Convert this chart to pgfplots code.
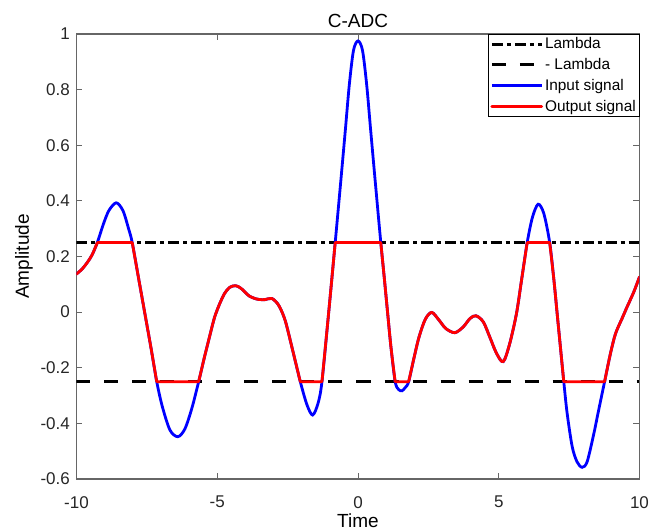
\documentclass[border=0pt]{standalone}
\usepackage{fontspec}
\setmainfont{Liberation Sans}
\usepackage{pgfplots}
\usepackage{pgfplotstable}
\pgfplotsset{compat=1.18}

% time and input signal
\pgfplotstableread{
x      in
-10.00  0.137
-9.80   0.155
-9.62   0.178
-9.45   0.205
-9.26   0.250
-9.05   0.315
-8.85   0.365
-8.59   0.393
-8.35   0.365
-8.15   0.300
-8.02   0.250
-7.80   0.125
-7.58   0.000
-7.36  -0.125
-7.15  -0.250
-6.95  -0.340
-6.68  -0.424
-6.40  -0.448
-6.15  -0.420
-5.90  -0.345
-5.66  -0.250
-5.45  -0.160
-5.23  -0.071
-5.09  -0.017
-4.91   0.031
-4.74   0.067
-4.56   0.089
-4.35   0.095
-4.15   0.085
-3.85   0.057
-3.55   0.046
-3.30   0.045
-3.06   0.049
-2.82   0.025
-2.59  -0.029
-2.35  -0.125
-2.05  -0.250
-1.81  -0.334
-1.61  -0.370
-1.42  -0.328
-1.28  -0.250
-1.04   0.000
-0.81   0.250
-0.63   0.450
-0.45   0.654
-0.31   0.816
-0.16   0.941
 0.00   0.975
 0.16   0.941
 0.31   0.816
 0.45   0.654
 0.63   0.450
 0.81   0.250
 0.93   0.127
 1.05   0.000
 1.17  -0.125
 1.32  -0.250
 1.44  -0.278
 1.56  -0.283
 1.68  -0.271
 1.80  -0.250
 2.00  -0.160
 2.17  -0.089
 2.39  -0.026
 2.62  -0.001
 2.88  -0.029
 3.12  -0.059
 3.44  -0.074
 3.74  -0.053
 3.98  -0.023
 4.19  -0.013
 4.45  -0.035
 4.68  -0.089
 4.92  -0.148
 5.16  -0.178
 5.39  -0.113
 5.63  -0.005
 5.81   0.115
 6.01   0.250
 6.20   0.342
 6.40   0.388
 6.60   0.355
 6.81   0.250
 6.96   0.115
 7.07   0.000
 7.19  -0.125
 7.31  -0.250
 7.43  -0.364
 7.61  -0.484
 7.78  -0.538
 7.96  -0.558
 8.14  -0.538
 8.38  -0.436
 8.55  -0.352
 8.76  -0.250
 8.97  -0.148
 9.15  -0.077
 9.38  -0.023
 9.56   0.019
 9.80   0.073
10.00   0.127
}\insig

% output signal, clipped to +-0.25; nan rows split the smooth pieces at the corners
\pgfplotstableread{
x      out
-10.00  0.137
-9.80   0.155
-9.62   0.178
-9.45   0.205
-9.26   0.250
nan     nan
-9.26   0.250
-8.02   0.250
nan     nan
-8.02   0.250
-7.80   0.125
-7.58   0.000
-7.36  -0.125
-7.15  -0.250
nan     nan
-7.15  -0.250
-5.66  -0.250
nan     nan
-5.66  -0.250
-5.45  -0.160
-5.23  -0.071
-5.09  -0.017
-4.91   0.031
-4.74   0.067
-4.56   0.089
-4.35   0.095
-4.15   0.085
-3.85   0.057
-3.55   0.046
-3.30   0.045
-3.06   0.049
-2.82   0.025
-2.59  -0.029
-2.35  -0.125
-2.05  -0.250
nan     nan
-2.05  -0.250
-1.28  -0.250
nan     nan
-1.28  -0.250
-1.04   0.000
-0.81   0.250
nan     nan
-0.81   0.250
 0.81   0.250
nan     nan
 0.81   0.250
 0.93   0.127
 1.05   0.000
 1.17  -0.125
 1.32  -0.250
nan     nan
 1.32  -0.250
 1.80  -0.250
nan     nan
 1.80  -0.250
 2.00  -0.160
 2.17  -0.089
 2.39  -0.026
 2.62  -0.001
 2.88  -0.029
 3.12  -0.059
 3.44  -0.074
 3.74  -0.053
 3.98  -0.023
 4.19  -0.013
 4.45  -0.035
 4.68  -0.089
 4.92  -0.148
 5.16  -0.178
 5.39  -0.113
 5.63  -0.005
 5.81   0.115
 6.01   0.250
nan     nan
 6.01   0.250
 6.81   0.250
nan     nan
 6.81   0.250
 6.96   0.115
 7.07   0.000
 7.19  -0.125
 7.31  -0.250
nan     nan
 7.31  -0.250
 8.76  -0.250
nan     nan
 8.76  -0.250
 8.97  -0.148
 9.15  -0.077
 9.38  -0.023
 9.56   0.019
 9.80   0.073
10.00   0.127
}\outsig

\definecolor{axgray}{gray}{0.4}

\begin{document}
\begin{tikzpicture}
\begin{axis}[
    at={(0,0)}, anchor=south west,
    scale only axis,
    width=563pt, height=445pt,
    xmin=-10, xmax=10, ymin=-0.6, ymax=1,
    xtick={-10,-5,0,5,10},
    ytick={-0.6,-0.4,-0.2,0,0.2,0.4,0.6,0.8,1},
    /pgf/number format/assume math mode=true,
    tick label style={font=\fontsize{17}{20}\selectfont, text=black!85},
    xticklabel style={anchor=north, inner sep=0pt, yshift=-17pt},
    yticklabel style={anchor=east, inner sep=0pt, xshift=-6.5pt},
    axis line style={axgray, line width=1.1pt},
    tick style={axgray, line width=0.9pt},
    major tick length=6pt,
    tick align=inside,
    unbounded coords=jump,
    title={C-ADC},
    every axis title shift=0pt,
    title style={at={(axis description cs:0.5,1)}, anchor=base, yshift=6.5pt,
                 font=\fontsize{19}{22}\selectfont},
    xlabel={Time},
    xlabel style={at={(axis description cs:0.5,0)}, anchor=base, yshift=-49pt,
                  font=\fontsize{19}{22}\selectfont},
    ylabel={Amplitude},
    ylabel style={at={([xshift=-47.5pt]axis description cs:0,0.5)}, anchor=base,
                  font=\fontsize{19}{22}\selectfont},
    legend style={at={(1,1)}, anchor=north east, draw=black, line width=0.8pt,
                  font=\fontsize{15.4}{17}\selectfont, inner sep=1.5pt,
                  row sep=4.6pt, nodes={inner sep=1.8pt}},
    legend cell align=left,
    legend image code/.code={\draw[#1] (0pt,0pt) -- (50pt,0pt);},
]
\addplot[black, line width=3pt, dash pattern=on 11pt off 4pt on 4pt off 4pt]
    coordinates {(-10,0.25) (10,0.25)};
\addplot[black, line width=3pt, dash pattern=on 14pt off 14pt]
    coordinates {(-10,-0.25) (10,-0.25)};
\addplot[blue, line width=2.8pt, smooth] table[x=x, y=in] {\insig};
\addplot[red, line width=2.8pt, smooth, line join=round, line cap=round]
    table[x=x, y=out] {\outsig};
\legend{Lambda, - Lambda, Input signal, Output signal}
\end{axis}
\pgfresetboundingbox
\path[use as bounding box] (-76.5pt,-53pt) rectangle (572.5pt,479pt);
\end{tikzpicture}
\end{document}
